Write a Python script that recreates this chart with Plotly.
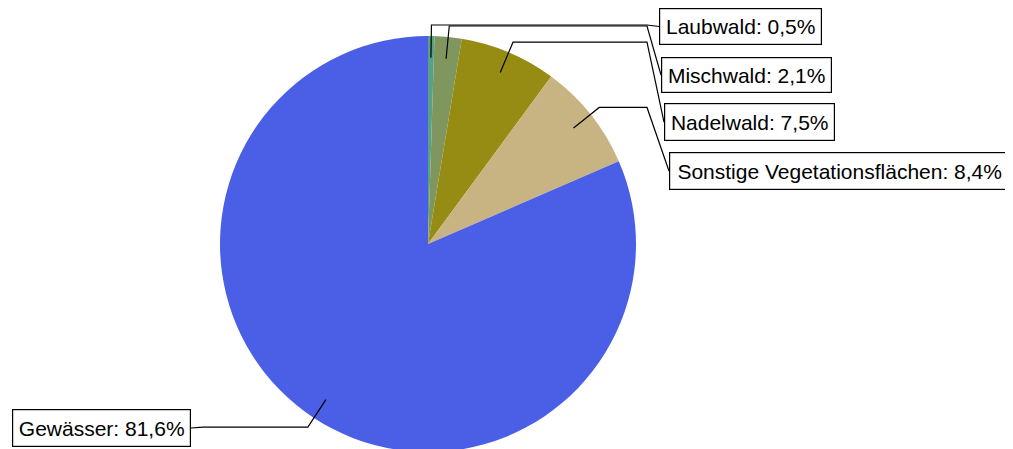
import math
import plotly.graph_objects as go

categories = ["Laubwald", "Mischwald", "Nadelwald", "Sonstige Vegetationsflächen", "Gewässer"]
values = [0.5, 2.1, 7.5, 8.4, 81.6]
colors = ["#58a088", "#7f975f", "#968c14", "#c8b482", "#4a5fe6"]
label_texts = [f"{c}: {str(v).replace('.', ',')}%" for c, v in zip(categories, values)]

# page body has an 8px margin: work in viewport pixels, shift by OFF
OFF = 8
W, H = 1005, 445
CX, CY, R = 428.0, 244.0, 208.0          # viewport pixels
# label boxes in viewport pixels: (x0, y0, x1, y1)
boxes = [(659, 8, 822, 45), (661, 57, 832, 93), (664, 103, 835, 141),
         (669, 152, 1010, 190), (12, 409, 191, 447)]
sides = ["left", "left", "left", "left", "right"]
PAD = 3

def p2p(x, y):
    return (x - OFF) / W, 1 - (y - OFF) / H

fig = go.Figure()
fig.add_trace(go.Pie(
    labels=categories, values=values, sort=False, direction="clockwise", rotation=0,
    marker=dict(colors=colors, line=dict(width=0)),
    textinfo="none", hoverinfo="label+percent", showlegend=False,
    domain=dict(x=[(CX - R - OFF) / W, (CX + R - OFF) / W],
                y=[max(0.0, 1 - (CY + R - OFF) / H), 1 - (CY - R - OFF) / H]),
))

total = sum(values)
cum = 0.0
shapes = []
annotations = []
for txt, v, (x0, y0, x1, y1), side in zip(label_texts, values, boxes, sides):
    mid = (cum + v / 2) / total
    cum += v
    th = 2 * math.pi * mid
    s = (CX + 0.895 * R * math.sin(th), CY - 0.895 * R * math.cos(th))
    e = (CX + 1.053 * R * math.sin(th), CY - 1.053 * R * math.cos(th))
    bmid = (y0 + y1) / 2
    if side == "left":
        pts = [s, e, (647, e[1]), (x0, bmid)]
    else:
        pts = [s, e, (x1 + 12, e[1]), (x1, bmid)]
    path = ""
    for k, (x, y) in enumerate(pts):
        px, py = p2p(x, y)
        path += ("M" if k == 0 else " L") + f" {px:.5f} {py:.5f}"
    shapes.append(dict(type="path", xref="paper", yref="paper", path=path,
                       line=dict(color="black", width=1.2)))
    ax, ay = p2p(x0, y0)
    annotations.append(dict(
        x=ax, y=ay, xref="paper", yref="paper", xanchor="left", yanchor="top",
        text=txt, showarrow=False, align="center", valign="middle",
        width=(x1 - x0) - 2 - 2 * PAD, height=(y1 - y0) - 2 - 2 * PAD,
        font=dict(family="Liberation Sans, Arial, sans-serif", size=21, color="black"),
        bordercolor="black", borderwidth=1.2, borderpad=PAD, bgcolor="white",
    ))

fig.update_layout(
    width=W, height=H, margin=dict(l=0, r=0, t=0, b=0),
    paper_bgcolor="white", plot_bgcolor="white",
    shapes=shapes, annotations=annotations,
)
fig.write_html("out.html")
